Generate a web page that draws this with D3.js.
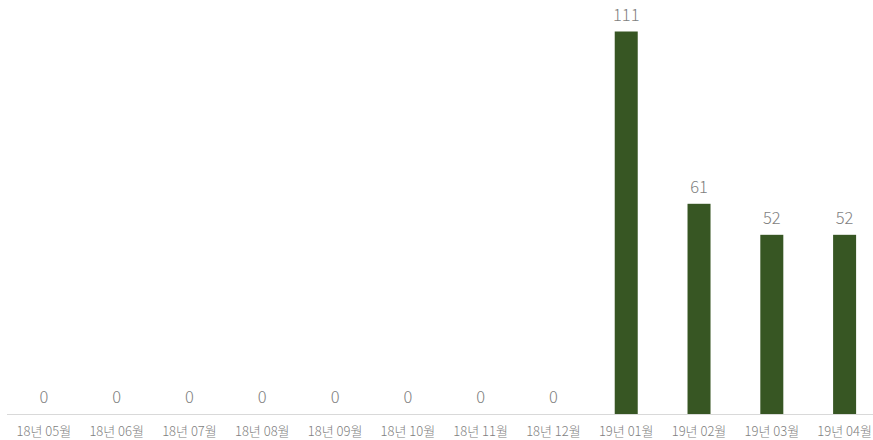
<!DOCTYPE html>
<html><head><meta charset="utf-8">
<script src="https://cdn.jsdelivr.net/npm/d3@7"></script>
<style>body{margin:0;background:#fff}svg{display:block}</style>
</head><body>
<svg id="c" width="873" height="440"></svg>
<script>
const categories = ["18년 05월","18년 06월","18년 07월","18년 08월","18년 09월","18년 10월","18년 11월","18년 12월","19년 01월","19년 02월","19년 03월","19년 04월"];
const values = [0,0,0,0,0,0,0,0,111,61,52,52];

const svg = d3.select("#c");
const baseY = 414, topY = 31.5;
const x = d3.scaleBand().domain(categories).range([7.5, 881]).paddingInner(0.684).paddingOuter(0.342);
const y = d3.scaleLinear().domain([0, 111]).range([baseY, topY]);

svg.selectAll("rect.bar").data(values).join("rect")
  .attr("class","bar")
  .attr("x",(d,i)=>x(categories[i]))
  .attr("width",x.bandwidth())
  .attr("y",d=>y(d))
  .attr("height",d=>baseY-y(d))
  .attr("fill","#375623");

const axis = d3.axisBottom(x).tickSize(0).tickPadding(0);
const g = svg.append("g").attr("transform",`translate(0,${baseY})`).call(axis);
g.select(".domain").attr("d",`M7,0.5H873`).attr("stroke","#d9d9d9").attr("stroke-width",1);
g.selectAll("text").attr("dy",null).attr("y",22)
  .attr("font-family","'Noto Sans CJK KR', sans-serif").attr("font-weight",300).attr("font-size","13px").attr("fill","#7f7f7f");

svg.selectAll("text.val").data(values).join("text")
  .attr("class","val")
  .attr("x",(d,i)=>x(categories[i])+x.bandwidth()/2)
  .attr("y",d=>y(d)-11)
  .attr("text-anchor","middle")
  .attr("font-family","'Noto Sans CJK KR', sans-serif").attr("font-weight",300).attr("font-size","16.5px").attr("fill","#7f7f7f")
  .text(d=>d);
</script>
</body></html>
